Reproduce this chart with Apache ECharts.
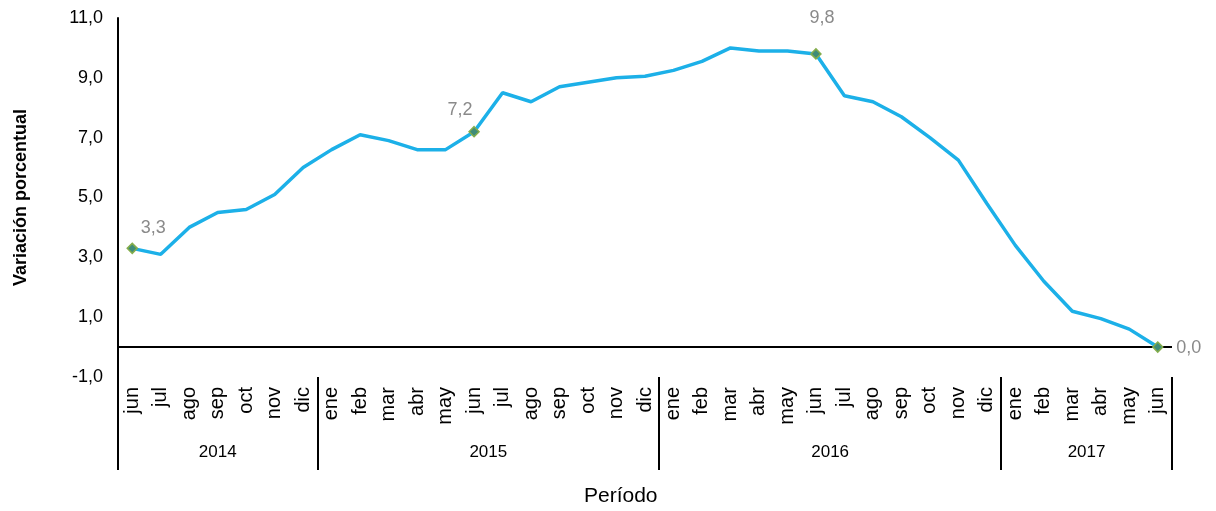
<!DOCTYPE html>
<html>
<head>
<meta charset="utf-8">
<script src="https://cdn.jsdelivr.net/npm/echarts@6/dist/echarts.min.js"></script>
<style>
  html, body { margin: 0; padding: 0; background: #fff; }
  #chart { width: 1216px; height: 511px; }
</style>
</head>
<body>
<div id="chart"></div>
<script>
// meses y años (jun 2014 - jun 2017)
var months = ['jun','jul','ago','sep','oct','nov','dic',
  'ene','feb','mar','abr','may','jun','jul','ago','sep','oct','nov','dic',
  'ene','feb','mar','abr','may','jun','jul','ago','sep','oct','nov','dic',
  'ene','feb','mar','abr','may','jun'];
var years = ['2014', '2015', '2016', '2017'];
var monthsPerYear = [7, 12, 12, 6];

// variación porcentual
var values = [3.3, 3.1, 4.0, 4.5, 4.6, 5.1, 6.0,
  6.6, 7.1, 6.9, 6.6, 6.6, 7.2, 8.5, 8.2, 8.7, 8.85, 9.0, 9.05,
  9.25, 9.55, 10.0, 9.9, 9.9, 9.8, 8.4, 8.2, 7.7, 7.0, 6.25, 4.8,
  3.4, 2.2, 1.2, 0.95, 0.6, 0.0];

var yTicks = [-1, 1, 3, 5, 7, 9, 11];

function fmt(v) { return v.toFixed(1).replace('.', ','); }

// eje de años: posiciones en medios meses
var yearSlots = [];
for (var s = 0; s <= months.length * 2; s++) yearSlots.push('');
var yearBounds = [0];
var acc = 0;
years.forEach(function (y, k) {
  yearSlots[acc * 2 + monthsPerYear[k]] = y;
  acc += monthsPerYear[k];
  yearBounds.push(acc * 2);
});
var slotIds = yearSlots.map(function (_, i) { return 's' + i; });

var FONT = 'Liberation Sans';

// etiquetas de los puntos marcados
var labelPos = { 0: [21, -20], 12: [-14, -22], 24: [6, -36], 36: [31, 1] };
var lineData = values.map(function (v, i) {
  if (months[i] !== 'jun') return { value: v, symbol: 'none' };
  var off = labelPos[i] || [0, -20];
  return {
    value: v,
    symbol: 'diamond',
    symbolSize: 10,
    itemStyle: { color: '#3f8c78', borderColor: '#84ad4c', borderWidth: 1.5 },
    label: {
      show: true, position: 'inside', offset: off,
      formatter: function (p) { return fmt(p.value); },
      color: '#8a8a8a', fontSize: 18, fontFamily: FONT
    }
  };
});

var chart = echarts.init(document.getElementById('chart'));
chart.setOption({
  animation: false,
  grid: { left: 118, right: 44, top: 18, bottom: 134 },
  graphic: [{
    type: 'text', left: 584, top: 486,
    style: { text: 'Período', font: '21px "Liberation Sans"', fill: '#000' }
  }],
  xAxis: [{
    type: 'category',
    data: months,
    boundaryGap: true,
    position: 'bottom',
    axisLine: { show: false },
    axisTick: { show: false },
    axisLabel: {
      rotate: 90, margin: 10, interval: 0,
      fontSize: 20, color: '#000', fontFamily: FONT
    }
  }, {
    type: 'category',
    data: slotIds,
    boundaryGap: false,
    position: 'bottom',
    axisLine: { show: false },
    axisTick: {
      show: true, length: 93, inside: false,
      interval: function (idx) { return yearBounds.indexOf(idx) >= 0; },
      lineStyle: { color: '#000', width: 2 }
    },
    axisLabel: {
      margin: 67, fontSize: 17, color: '#000', fontFamily: FONT,
      interval: function (idx) { return yearSlots[idx] !== ''; },
      formatter: function (v, idx) { return yearSlots[idx]; }
    }
  }],
  yAxis: {
    type: 'value',
    min: -1, max: 11, interval: 1,
    name: 'Variación porcentual',
    nameLocation: 'middle',
    nameGap: 88,
    nameTextStyle: { fontSize: 18, fontWeight: 'bold', color: '#000', fontFamily: FONT },
    axisLine: { show: true, lineStyle: { color: '#000', width: 2 } },
    axisTick: { show: false },
    splitLine: { show: false },
    axisLabel: {
      margin: 15, fontSize: 18, color: '#000', fontFamily: FONT,
      formatter: function (v) { return yTicks.indexOf(v) >= 0 ? fmt(v) : ''; }
    }
  },
  series: [{
    type: 'line',
    data: lineData,
    lineStyle: { color: '#1cb0e8', width: 3.5 },
    itemStyle: { color: '#1cb0e8' },
    z: 3,
    markLine: {
      silent: true,
      symbol: 'none',
      label: { show: false },
      lineStyle: { color: '#000', width: 2, type: 'solid' },
      data: [{ yAxis: 0 }],
      z: 2
    }
  }]
});
</script>
</body>
</html>
